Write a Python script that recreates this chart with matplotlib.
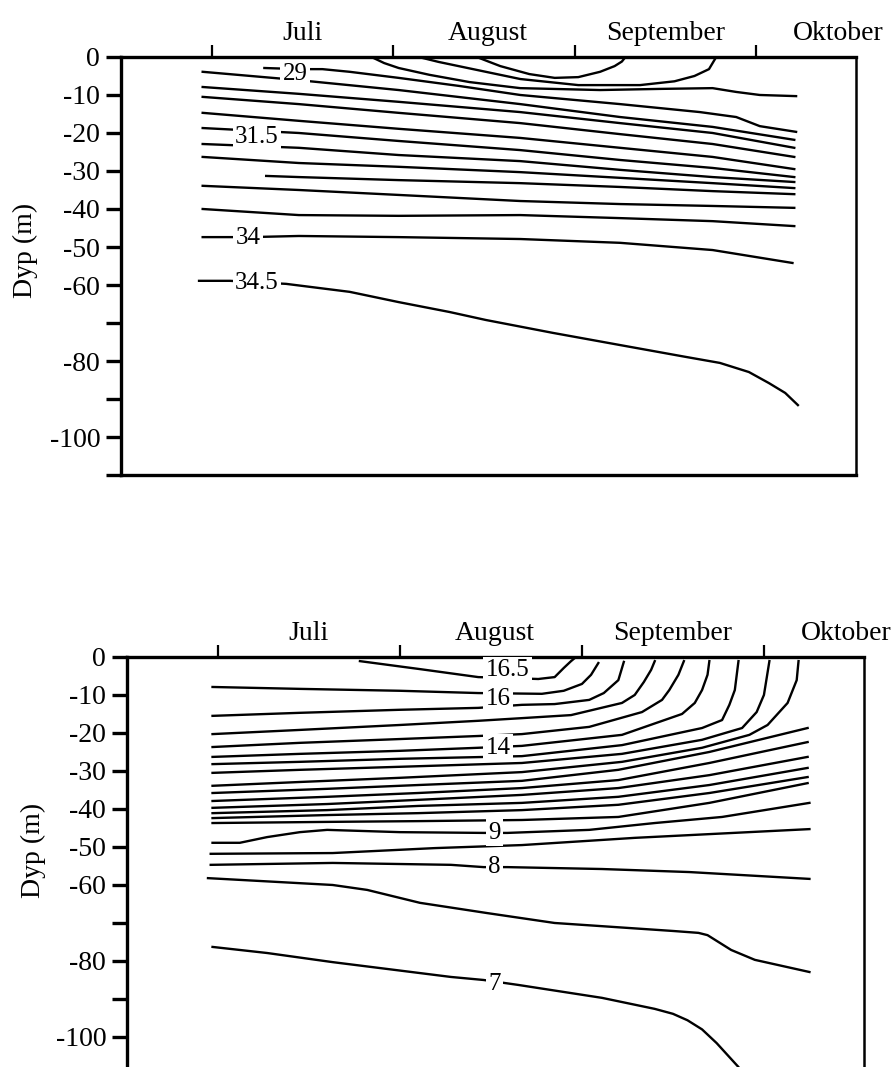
import matplotlib
matplotlib.use("Agg")
import matplotlib.pyplot as plt

plt.rcParams['font.family'] = ['Liberation Serif', 'DejaVu Serif']

# x axis: months counted from 1 July (0 = 1 Jul, 1 = 1 Aug, ...)
month_names = ["Juli", "August", "September", "Oktober"]
month_starts = [0, 1, 2, 3]
month_label_x = [0.5, 1.52, 2.5, 3.45]

depth_ticks = [0, -10, -20, -30, -40, -50, -60, -70, -80, -90, -100, -110]
depth_tick_labels = ["0", "-10", "-20", "-30", "-40", "-50", "-60", "", "-80", "", "-100", ""]

# ---- top panel: salinity isolines, depth (m) ----
sal_x = [-0.05, 0.48, 1.03, 1.70, 2.25, 2.76, 3.21]
sal_lines = [
    [-3.9, -6.1, -8.7, -12.4, -15.8, -18.4, -21.8],
    [-7.9, -9.7, -11.8, -14.5, -17.4, -20.0, -23.9],
    [-10.5, -12.4, -14.7, -17.4, -20.3, -22.9, -26.3],
    [-14.7, -16.8, -18.9, -21.3, -23.9, -26.3, -29.5],
    [-18.7, -20.0, -22.1, -24.5, -27.1, -29.2, -31.6],   # 31.5
    [-22.9, -23.9, -25.8, -27.4, -29.7, -31.6, -32.9],
    [-26.3, -27.9, -28.9, -30.3, -31.8, -33.2, -34.5],
    [-33.9, -35.0, -36.3, -37.9, -38.7, -39.2, -39.7],
    [-40.0, -41.6, -41.8, -41.6, -42.4, -43.2, -44.5],
]
sal_extra_x = [0.30, 0.48, 1.03, 1.70, 2.25, 2.76, 3.21]
sal_extra_d = [-31.3, -31.6, -32.4, -33.2, -34.2, -35.3, -36.1]

sal_29_x = [0.29, 0.48, 0.61, 0.76, 1.03, 1.36, 1.70, 2.25, 2.69, 2.89, 3.02, 3.22]
sal_29_d = [-2.9, -3.2, -3.2, -3.9, -5.5, -7.6, -10.0, -12.4, -14.5, -15.8, -18.2, -19.7]

sal_surf_x = [0.88, 0.95, 1.03, 1.20, 1.42, 1.70, 2.14, 2.47, 2.76, 2.89, 3.02, 3.22]
sal_surf_d = [0.0, -1.6, -2.9, -4.7, -6.6, -8.2, -8.7, -8.4, -8.2, -9.2, -10.0, -10.3]

sal_arc_x = [1.14, 1.25, 1.36, 1.52, 1.70, 2.02, 2.36, 2.55, 2.66, 2.74, 2.78]
sal_arc_d = [0.0, -1.3, -2.4, -4.0, -5.8, -7.4, -7.4, -6.4, -5.0, -3.2, 0.0]

sal_cap_x = [1.46, 1.53, 1.59, 1.75, 1.89, 2.02, 2.14, 2.22, 2.26, 2.28]
sal_cap_d = [0.0, -1.3, -2.4, -4.5, -5.5, -5.3, -3.9, -2.4, -1.2, 0.0]

sal_34_x = [-0.05, 0.21, 0.48, 1.03, 1.70, 2.25, 2.76, 3.20]
sal_34_d = [-47.4, -47.4, -47.1, -47.4, -47.9, -48.9, -50.8, -54.2]

sal_345_x = [-0.07, 0.10, 0.41, 0.76, 1.03, 1.31, 1.51, 1.88, 2.25, 2.61, 2.80, 2.96, 3.07, 3.16, 3.23]
sal_345_d = [-58.9, -58.9, -59.7, -61.8, -64.5, -67.1, -69.2, -72.6, -75.8, -78.9, -80.5, -82.9, -85.8, -88.4, -91.6]

sal_label_text = ["29", "31.5", "34", "34.5"]
sal_label_x = [0.46, 0.25, 0.20, 0.25]
sal_label_d = [-4.6, -21.0, -47.6, -59.5]

# ---- bottom panel: temperature isolines ----
temp_x = [-0.03, 0.60, 1.10, 1.67, 2.20, 2.70, 3.24]
temp_lines = [
    [-35.8, -34.7, -33.7, -32.6, -29.7, -25.0, -18.7],   # 12
    [-37.9, -36.8, -35.8, -34.5, -32.4, -27.9, -22.4],   # 11.5
    [-39.7, -38.7, -37.6, -36.3, -34.5, -31.1, -26.3],   # 11
    [-41.1, -40.3, -39.2, -38.4, -36.8, -33.7, -29.2],   # 10.5
    [-42.4, -41.6, -41.1, -40.3, -38.9, -35.8, -31.6],   # 10
    [-43.7, -43.4, -43.2, -42.9, -42.1, -38.4, -33.2],   # 9.5
]

# isolines bending up to the surface (16.5 ... 12.5)
temp_curves_x = [
    [0.78, 1.11, 1.43, 1.76, 1.85, 1.90, 1.94, 1.96],
    [-0.03, 0.45, 1.00, 1.43, 1.78, 1.90, 2.00, 2.05, 2.09],
    [-0.03, 0.45, 1.00, 1.43, 1.67, 1.85, 2.04, 2.12, 2.20, 2.23],
    [-0.03, 0.45, 1.00, 1.43, 1.67, 1.94, 2.22, 2.29, 2.34, 2.38, 2.40],
    [-0.03, 0.45, 1.00, 1.43, 1.67, 2.04, 2.33, 2.44, 2.48, 2.53, 2.56],
    [-0.03, 0.45, 1.00, 1.43, 1.67, 2.22, 2.55, 2.62, 2.66, 2.69, 2.70],
    [-0.03, 0.45, 1.00, 1.67, 2.22, 2.66, 2.77, 2.81, 2.84, 2.86],
    [-0.03, 0.45, 1.00, 1.67, 2.22, 2.66, 2.88, 2.96, 3.00, 3.03],
    [-0.03, 0.45, 1.00, 1.67, 2.22, 2.66, 2.92, 3.02, 3.13, 3.18, 3.19],
]
temp_curves_d = [
    [-1.1, -3.2, -5.3, -5.8, -5.3, -2.9, -1.1, -0.3],
    [-7.9, -8.4, -8.9, -9.5, -9.7, -8.9, -7.1, -4.7, -1.6],
    [-15.5, -14.7, -13.9, -13.4, -12.6, -12.4, -11.3, -9.5, -6.1, -1.3],
    [-20.3, -19.2, -17.9, -16.8, -16.1, -15.3, -12.1, -10.0, -6.6, -3.4, -1.1],
    [-23.7, -22.6, -21.6, -20.8, -20.3, -18.4, -14.5, -11.3, -8.7, -4.7, -1.1],
    [-26.3, -25.5, -24.7, -23.9, -23.4, -20.5, -15.0, -12.1, -8.7, -4.7, -1.1],
    [-28.2, -27.6, -26.8, -26.1, -23.2, -18.7, -16.6, -12.6, -8.7, -1.1],
    [-30.5, -29.7, -28.9, -27.9, -25.5, -21.8, -18.7, -14.5, -10.0, -1.1],
    [-33.9, -32.9, -31.8, -30.3, -27.6, -23.9, -20.5, -17.9, -12.1, -6.1, -1.1],
]

temp_9_x = [-0.03, 0.12, 0.27, 0.45, 0.60, 1.00, 1.46, 1.59, 2.04, 2.40, 2.77, 3.25]
temp_9_d = [-48.9, -48.9, -47.4, -46.1, -45.5, -46.1, -46.3, -46.3, -45.5, -43.7, -42.1, -38.4]

temp_85_x = [-0.04, 0.63, 1.19, 1.67, 2.29, 3.25]
temp_85_d = [-51.8, -51.6, -50.3, -49.5, -47.6, -45.3]

temp_8_x = [-0.04, 0.63, 1.28, 1.46, 1.59, 2.11, 2.59, 3.25]
temp_8_d = [-54.7, -54.2, -54.7, -55.3, -55.3, -55.8, -56.6, -58.4]

temp_75_x = [-0.055, 0.63, 0.82, 1.11, 1.48, 1.85, 2.50, 2.64, 2.69, 2.74, 2.82, 2.95, 3.25]
temp_75_d = [-58.2, -60.0, -61.3, -64.7, -67.4, -70.0, -72.1, -72.6, -73.2, -74.7, -77.1, -79.7, -82.9]

temp_7_x = [-0.03, 0.27, 0.63, 1.28, 1.46, 1.65, 2.11, 2.40, 2.50, 2.58, 2.66, 2.74, 2.86, 2.92]
temp_7_d = [-76.3, -77.9, -80.3, -84.2, -85.0, -86.3, -89.7, -92.6, -93.9, -95.6, -98.0, -101.6, -107.9, -112.6]

temp_label_text = ["16.5", "16", "14", "9", "8", "7"]
temp_label_x = [1.59, 1.54, 1.54, 1.52, 1.52, 1.52]
temp_label_d = [-3.5, -11.0, -23.9, -46.3, -55.3, -86.0]

LW = 1.7
FS = 20
LABEL_FS = 18


def style_axes(ax):
    ax.set_xlim(-0.5, 3.55)
    ax.set_ylim(-110, 0)
    ax.xaxis.tick_top()
    ax.set_xticks(month_starts)
    ax.set_xticklabels([])
    ax.set_xticks(month_label_x, minor=True)
    ax.set_xticklabels(month_names, minor=True, fontsize=FS)
    ax.tick_params(axis='x', which='major', direction='out', length=9, width=1.6, top=True, bottom=False)
    ax.tick_params(axis='x', which='minor', length=0, pad=8, top=True, bottom=False)
    ax.set_yticks(depth_ticks)
    ax.set_yticklabels(depth_tick_labels, fontsize=FS)
    ax.tick_params(axis='y', direction='out', length=11, width=2.4, pad=4)
    for side in ['top', 'left', 'bottom']:
        ax.spines[side].set_linewidth(2.4)
    ax.spines['right'].set_linewidth(1.8)
    ax.set_ylabel("Dyp (m)", fontsize=FS)


def put_labels(ax, texts, xs, ds):
    for t, x, d in zip(texts, xs, ds):
        ax.text(x, d, t, fontsize=LABEL_FS, ha='center', va='center', zorder=5,
                bbox=dict(boxstyle='square,pad=0.1', fc='white', ec='none'))


fig = plt.figure(figsize=(8.95, 10.67), dpi=100)

ax1 = fig.add_axes([0.1352, 0.5548, 0.8212, 0.3918])
for d in sal_lines:
    ax1.plot(sal_x, d, color='black', lw=LW)
for xs, ds in [(sal_extra_x, sal_extra_d), (sal_29_x, sal_29_d), (sal_surf_x, sal_surf_d),
               (sal_arc_x, sal_arc_d), (sal_cap_x, sal_cap_d), (sal_34_x, sal_34_d),
               (sal_345_x, sal_345_d)]:
    ax1.plot(xs, ds, color='black', lw=LW)
put_labels(ax1, sal_label_text, sal_label_x, sal_label_d)
style_axes(ax1)
ax1.yaxis.set_label_coords(-0.113, 0.538)

ax2 = fig.add_axes([0.1419, -0.0075, 0.8235, 0.3918])
for d in temp_lines:
    ax2.plot(temp_x, d, color='black', lw=LW)
for xs, ds in zip(temp_curves_x, temp_curves_d):
    ax2.plot(xs, ds, color='black', lw=LW)
for xs, ds in [(temp_9_x, temp_9_d), (temp_85_x, temp_85_d), (temp_8_x, temp_8_d),
               (temp_75_x, temp_75_d), (temp_7_x, temp_7_d)]:
    ax2.plot(xs, ds, color='black', lw=LW)
put_labels(ax2, temp_label_text, temp_label_x, temp_label_d)
style_axes(ax2)
ax2.yaxis.set_label_coords(-0.110, 0.538)

fig.savefig("out.png", dpi=100)
